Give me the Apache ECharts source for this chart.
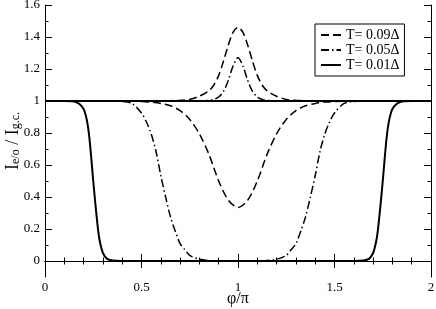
<!DOCTYPE html>
<html>
<head>
<meta charset="utf-8">
<script src="https://cdn.jsdelivr.net/npm/echarts@6/dist/echarts.min.js"></script>
<style>
	html, body { margin: 0; padding: 0; background: #fff; }
	#main { width: 436px; height: 309px; }
</style>
</head>
<body>
<div id="main"></div>
<script>
// legend names
var names = [ 'T= 0.09\u0394', 'T= 0.05\u0394', 'T= 0.01\u0394' ];

// tick values (y axis starts at -0.1, so ticks are listed)
var yMajorTicks = [ 0, 0.2, 0.4, 0.6, 0.8, 1, 1.2, 1.4, 1.6 ];
var yMinorTicks = [ 0.1, 0.3, 0.5, 0.7, 0.9, 1.1, 1.3, 1.5 ];

// T = 0.09 : dip curve
var xDip09 = [ 0, 0.3, 0.4, 0.5, 0.55, 0.6, 0.65, 0.7, 0.75, 0.8, 0.85, 0.9, 0.95, 1.0,
	1.05, 1.1, 1.15, 1.2, 1.25, 1.3, 1.35, 1.4, 1.45, 1.5, 1.6, 1.7, 2 ];
var yDip09 = [ 1, 1, 0.999, 0.997, 0.993, 0.985, 0.97, 0.94, 0.885, 0.795, 0.665, 0.5, 0.38, 0.335,
	0.38, 0.5, 0.665, 0.795, 0.885, 0.94, 0.97, 0.985, 0.993, 0.997, 0.999, 1, 1 ];
// T = 0.09 : peak curve
var xPeak09 = [ 0, 0.5, 0.6, 0.7, 0.75, 0.8, 0.85, 0.875, 0.9, 0.925, 0.95, 0.975, 1.0,
	1.025, 1.05, 1.075, 1.1, 1.125, 1.15, 1.2, 1.25, 1.3, 1.4, 1.5, 2 ];
var yPeak09 = [ 1, 1, 1.001, 1.004, 1.01, 1.03, 1.065, 1.1, 1.16, 1.25, 1.35, 1.43, 1.46,
	1.43, 1.35, 1.25, 1.16, 1.1, 1.065, 1.03, 1.01, 1.004, 1.001, 1, 1 ];

// T = 0.05 : dip curve
var xDip05 = [ 0, 0.3, 0.4, 0.45, 0.5, 0.525, 0.55, 0.575, 0.6, 0.625, 0.65, 0.675, 0.7, 0.725, 0.75, 0.8, 0.85, 0.9,
	1.1, 1.15, 1.2, 1.25, 1.275, 1.3, 1.325, 1.35, 1.375, 1.4, 1.425, 1.45, 1.475, 1.5, 1.55, 1.6, 1.7, 2 ];
var yDip05 = [ 1, 1, 0.997, 0.985, 0.925, 0.87, 0.795, 0.686, 0.533, 0.4, 0.276, 0.186, 0.108, 0.07, 0.035, 0.011, 0.003, 0,
	0, 0.003, 0.011, 0.035, 0.07, 0.108, 0.186, 0.276, 0.4, 0.533, 0.686, 0.795, 0.87, 0.925, 0.985, 0.997, 1, 1 ];
// T = 0.05 : peak curve
var xPeak05 = [ 0, 0.7, 0.8, 0.85, 0.875, 0.9, 0.925, 0.95, 0.975, 1.0,
	1.025, 1.05, 1.075, 1.1, 1.125, 1.15, 1.2, 1.3, 2 ];
var yPeak05 = [ 1, 1, 1.001, 1.004, 1.01, 1.025, 1.06, 1.13, 1.22, 1.27,
	1.22, 1.13, 1.06, 1.025, 1.01, 1.004, 1.001, 1, 1 ];

// T = 0.01 : dip curve
var xDip01 = [ 0, 0.1, 0.14, 0.16, 0.18, 0.2, 0.21, 0.22, 0.23, 0.24, 0.25, 0.26, 0.27, 0.28, 0.29, 0.3, 0.32, 0.35, 0.4,
	1.6, 1.65, 1.68, 1.7, 1.71, 1.72, 1.73, 1.74, 1.75, 1.76, 1.77, 1.78, 1.79, 1.8, 1.82, 1.84, 1.86, 1.9, 2 ];
var yDip01 = [ 1, 1, 0.998, 0.993, 0.98, 0.95, 0.915, 0.86, 0.77, 0.64, 0.5, 0.37, 0.25, 0.15, 0.09, 0.05, 0.015, 0.003, 0,
	0, 0.003, 0.015, 0.05, 0.09, 0.15, 0.25, 0.37, 0.5, 0.64, 0.77, 0.86, 0.915, 0.95, 0.98, 0.993, 0.998, 1, 1 ];
// T = 0.01 : flat curve
var xFlat01 = [ 0, 2 ];
var yFlat01 = [ 1, 1 ];

function pairs(xs, ys) {
	var out = [];
	for (var i = 0; i < xs.length; i++) {
		out.push([ xs[i], ys[i] ]);
	}
	return out;
}

var font = '"Liberation Serif", "Times New Roman", Times, serif';
var dash = [ 8, 4 ];
var dashDot = [ 8, 3, 1.5, 3 ];

function curve(name, data, type, width) {
	return {
		name : name,
		type : 'line',
		data : data,
		symbol : 'none',
		smooth : 0.3,
		xAxisIndex : 0,
		yAxisIndex : 0,
		lineStyle : { color : '#000', width : width, type : type }
	};
}

function yAxisBox(pos, ticks, len, showLine, showLabel) {
	return {
		type : 'value',
		position : pos,
		min : -0.1,
		max : 1.6,
		splitLine : { show : false },
		axisLine : { show : showLine, lineStyle : { color : '#000', width : 1 } },
		axisTick : { inside : true, length : len, customValues : ticks, lineStyle : { color : '#000' } },
		axisLabel : { show : showLabel, customValues : ticks, margin : 5,
			color : '#000', fontFamily : font, fontSize : 13 }
	};
}

var yName = yAxisBox('left', yMajorTicks, 7, true, true);
yName.name = '{m|I}{s|e/o}{m| / I}{s|g.c.}';
yName.nameLocation = 'middle';
yName.nameGap = 23;
yName.nameMoveOverlap = false;
yName.nameTextStyle = {
	color : '#000',
	rich : {
		m : { fontFamily : font, fontSize : 18, lineHeight : 18, verticalAlign : 'top', padding : [ 0, 0, 5, 0 ] },
		s : { fontFamily : font, fontSize : 12, lineHeight : 12, verticalAlign : 'bottom' }
	}
};

var option = {
	animation : false,
	backgroundColor : '#fff',
	grid : { left : 45, right : 5, top : 5, bottom : 32, outerBoundsMode : 'none', containLabel : false },
	legend : {
		data : names,
		orient : 'vertical',
		left : 315,
		top : 24,
		padding : [ 4, 5, 4, 5 ],
		itemGap : 1,
		itemWidth : 20,
		itemHeight : 12,
		borderColor : '#000',
		borderWidth : 1,
		itemStyle : { opacity : 0 },
		textStyle : { color : '#000', fontFamily : font, fontSize : 14, lineHeight : 12 }
	},
	xAxis : [ {
		type : 'value',
		min : 0,
		max : 2,
		interval : 0.5,
		name : '\u03c6/\u03c0',
		nameLocation : 'middle',
		nameGap : 14,
		nameMoveOverlap : false,
		nameTextStyle : { color : '#000', fontFamily : font, fontSize : 16 },
		splitLine : { show : false },
		axisLine : { lineStyle : { color : '#000', width : 1 } },
		axisTick : { inside : true, length : 7, lineStyle : { color : '#000' } },
		minorTick : { show : true, splitNumber : 5, length : 3.5, lineStyle : { color : '#000' } },
		axisLabel : { color : '#000', fontFamily : font, fontSize : 13, margin : 4 }
	}, {
		type : 'value',
		position : 'top',
		min : 0,
		max : 2,
		interval : 0.5,
		splitLine : { show : false },
		axisLine : { lineStyle : { color : '#000', width : 1 } },
		axisTick : { inside : true, length : 7, lineStyle : { color : '#000' } },
		minorTick : { show : true, splitNumber : 5, length : 3.5, lineStyle : { color : '#000' } },
		axisLabel : { show : false }
	} ],
	yAxis : [
		yName,
		yAxisBox('left', yMinorTicks, 3.5, false, false),
		yAxisBox('right', yMajorTicks, 7, true, false),
		yAxisBox('right', yMinorTicks, 3.5, false, false)
	],
	series : [
		curve(names[0], pairs(xDip09, yDip09), dash, 1.5),
		curve(names[0], pairs(xPeak09, yPeak09), dash, 1.5),
		curve(names[1], pairs(xDip05, yDip05), dashDot, 1.5),
		curve(names[1], pairs(xPeak05, yPeak05), dashDot, 1.5),
		curve(names[2], pairs(xDip01, yDip01), 'solid', 2),
		curve(names[2], pairs(xFlat01, yFlat01), 'solid', 2)
	]
};

var chart = echarts.init(document.getElementById('main'));
chart.setOption(option);
</script>
</body>
</html>
